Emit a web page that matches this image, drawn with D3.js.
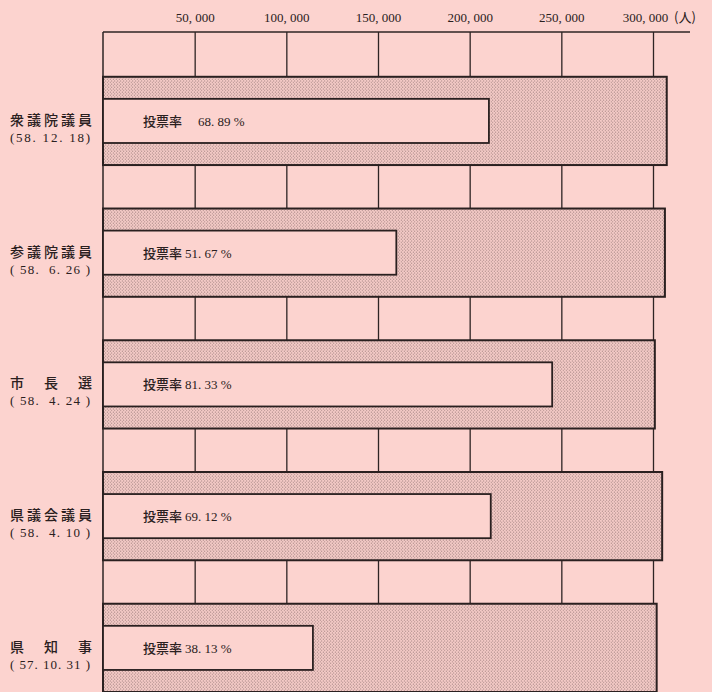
<!DOCTYPE html>
<html>
<head>
<meta charset="utf-8">
<script src="https://cdn.jsdelivr.net/npm/d3@7"></script>
<style>
  body { margin: 0; background: #fcd3cf; }
  svg { display: block; }
  text { white-space: pre; }
</style>
</head>
<body>
<div id="chart"></div>
<script>
// election names, dates, electorate (outer bar) and voters (inner bar)
var elections = ['衆議院議員', '参議院議員', '市長選', '県議会議員', '県知事'];
var dates = ['(58. 12. 18)', '( 58.  6. 26 )', '( 58.  4. 24 )', '( 58.  4. 10 )', '( 57. 10. 31 )'];
var electorate = [307500, 306500, 301000, 305000, 302000];
var voters = [210500, 160000, 245000, 211500, 114500];
var turnout = ['    68. 89 %', '51. 67 %', '81. 33 %', '69. 12 %', '38. 13 %'];
var tickValues = [50000, 100000, 150000, 200000, 250000, 300000];
var unitLabel = '(人)';

const width = 712;
const height = 692;
const margin = { top: 32, left: 103 };

var rows = elections.map((d, i) => ({
  name: d,
  date: dates[i],
  total: electorate[i],
  voted: voters[i],
  rate: turnout[i]
}));

var svg = d3.select('#chart')
  .append('svg')
  .attr('width', width)
  .attr('height', height);

// dotted screen tone for the electorate bars
var defs = svg.append('defs');
var pat = defs.append('pattern')
  .attr('id', 'dots')
  .attr('patternUnits', 'userSpaceOnUse')
  .attr('width', 3)
  .attr('height', 3.2);
pat.append('rect').attr('width', 3).attr('height', 3.2).attr('fill', '#f5cbc7');
pat.append('circle').attr('cx', 0.75).attr('cy', 0.8).attr('r', 0.5).attr('fill', '#6e5656');
pat.append('circle').attr('cx', 2.25).attr('cy', 2.4).attr('r', 0.5).attr('fill', '#6e5656');

var x = d3.scaleLinear()
  .domain([0, 300000])
  .range([margin.left, 653]);

var y = d3.scaleBand()
  .domain(elections)
  .range([margin.top, height])
  .paddingInner(0.33)
  .paddingOuter(0.17)
  .align(1);

// top axis, ticks run down as gridlines
var axis = d3.axisTop(x)
  .tickValues(tickValues)
  .tickSize(-(height - margin.top))
  .tickPadding(10)
  .tickFormat(d => d3.format(',')(d).replace(',', ', '));

var axisGroup = svg.append('g')
  .attr('transform', 'translate(0,' + margin.top + ')')
  .call(axis);

axisGroup.select('.domain').remove();
axisGroup.selectAll('.tick line')
  .attr('stroke', '#2e2424')
  .attr('stroke-width', 1.3);
axisGroup.selectAll('.tick text')
  .attr('fill', '#2a2020')
  .style('font-family', '"Liberation Serif", serif')
  .style('font-size', '13px')
  .attr('dx', (d, i) => i == tickValues.length - 1 ? -8 : 0);

svg.append('text')
  .attr('x', 674)
  .attr('y', 22)
  .attr('fill', '#2a2020')
  .style('font-family', '"Noto Sans CJK JP", sans-serif')
  .style('font-size', '13px')
  .text(unitLabel);

// frame lines
svg.append('line')
  .attr('x1', margin.left).attr('x2', 690)
  .attr('y1', margin.top).attr('y2', margin.top)
  .attr('stroke', '#2e2424').attr('stroke-width', 1.5);
svg.append('line')
  .attr('x1', margin.left).attr('x2', margin.left)
  .attr('y1', margin.top).attr('y2', height)
  .attr('stroke', '#2e2424').attr('stroke-width', 1.5);

var groups = svg.selectAll('.row')
  .data(rows)
  .enter()
  .append('g')
  .attr('class', 'row');

// electorate bars
groups.append('rect')
  .attr('x', x(0))
  .attr('y', d => y(d.name))
  .attr('width', d => x(d.total) - x(0))
  .attr('height', y.bandwidth())
  .attr('fill', 'url(#dots)')
  .attr('stroke', '#2a2020')
  .attr('stroke-width', 2);

// voters bars, half height
groups.append('rect')
  .attr('x', x(0))
  .attr('y', d => y(d.name) + y.bandwidth() / 4)
  .attr('width', d => x(d.voted) - x(0))
  .attr('height', y.bandwidth() / 2)
  .attr('fill', '#fcd3cf')
  .attr('stroke', '#2a2020')
  .attr('stroke-width', 1.8);

// turnout text in the inner bar
var rateText = groups.append('text')
  .attr('x', 143)
  .attr('y', d => y(d.name) + y.bandwidth() / 2 + 5)
  .attr('fill', '#2a2020');
rateText.append('tspan')
  .style('font-family', '"Noto Sans CJK JP", sans-serif')
  .style('font-size', '13px')
  .style('font-weight', 500)
  .text('投票率 ');
rateText.append('tspan')
  .style('font-family', '"Liberation Serif", serif')
  .style('font-size', '13px')
  .text(d => d.rate);

// category labels on the left
groups.append('text')
  .attr('x', 10)
  .attr('y', d => y(d.name) + y.bandwidth() / 2 + 4)
  .attr('textLength', 82)
  .attr('lengthAdjust', 'spacing')
  .attr('fill', '#2a2020')
  .style('font-family', '"Noto Sans CJK JP", sans-serif')
  .style('font-size', '14px')
  .style('font-weight', 500)
  .text(d => d.name);

groups.append('text')
  .attr('x', 10)
  .attr('y', d => y(d.name) + y.bandwidth() / 2 + 21)
  .attr('textLength', 80)
  .attr('lengthAdjust', 'spacing')
  .attr('fill', '#2a2020')
  .style('font-family', '"Liberation Serif", serif')
  .style('font-size', '13px')
  .text(d => d.date);
</script>
</body>
</html>
